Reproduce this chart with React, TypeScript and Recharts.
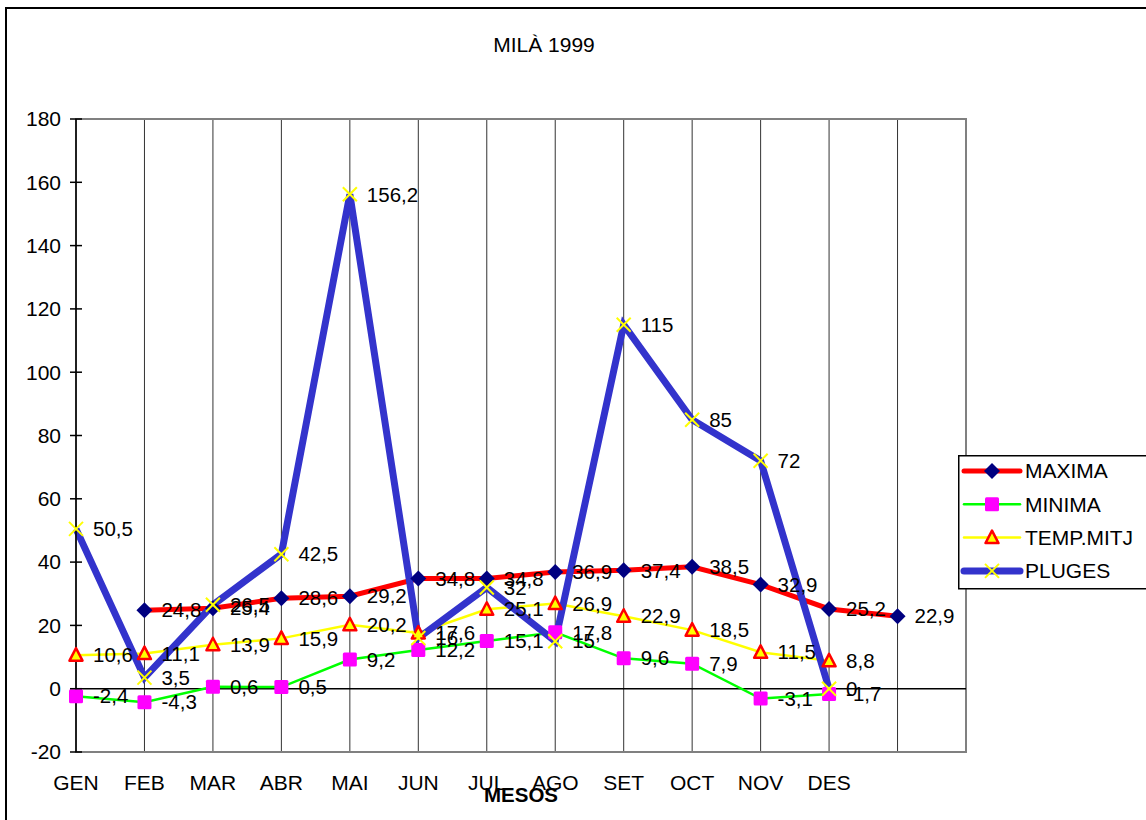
import React from 'react';
import {
  CartesianGrid,
  LabelList,
  Legend,
  Line,
  LineChart,
  ReferenceArea,
  ReferenceLine,
  XAxis,
  YAxis,
} from 'recharts';

// Months on the axis, plus two unlabeled slots at the right end
const MONTHS = ['GEN', 'FEB', 'MAR', 'ABR', 'MAI', 'JUN', 'JUL', 'AGO', 'SET', 'OCT', 'NOV', 'DES'];
const SPARE = ['_13', '_14'];
const CATEGORIES = [...MONTHS, ...SPARE];

// MAXIMA is shifted one slot to the right in the source sheet (starts at FEB)
const MAXIMA = [null, 24.8, 25.4, 28.6, 29.2, 34.8, 34.8, 36.9, 37.4, 38.5, 32.9, 25.2, 22.9, null];
const MINIMA = [-2.4, -4.3, 0.6, 0.5, 9.2, 12.2, 15.1, 17.8, 9.6, 7.9, -3.1, -1.7, null, null];
const TEMP_MITJ = [10.6, 11.1, 13.9, 15.9, 20.2, 17.6, 25.1, 26.9, 22.9, 18.5, 11.5, 8.8, null, null];
const PLUGES = [50.5, 3.5, 26.5, 42.5, 156.2, 16, 32, 15, 115, 85, 72, 0, null, null];

const Y_TICKS = [-20, 0, 20, 40, 60, 80, 100, 120, 140, 160, 180];

const FONT = 'Arial, "Liberation Sans", sans-serif';

type MarkerKind = 'diamond' | 'square' | 'triangle' | 'cross';

const SERIES: { key: string; name: string; color: string; width: number; marker: MarkerKind }[] = [
  { key: 'maxima', name: 'MAXIMA', color: '#FF0000', width: 5, marker: 'diamond' },
  { key: 'minima', name: 'MINIMA', color: '#00FF00', width: 2.5, marker: 'square' },
  { key: 'mitja', name: 'TEMP.MITJ', color: '#FFFF00', width: 2.5, marker: 'triangle' },
  { key: 'pluges', name: 'PLUGES', color: '#3333CC', width: 7, marker: 'cross' },
];

const data = CATEGORIES.map((m, i) => ({
  m,
  maxima: MAXIMA[i],
  minima: MINIMA[i],
  mitja: TEMP_MITJ[i],
  pluges: PLUGES[i],
}));

function Marker({ kind, cx, cy }: { kind: MarkerKind; cx: number; cy: number }) {
  if (kind === 'diamond') {
    const r = 8;
    return <path d={`M${cx},${cy - r}L${cx + r},${cy}L${cx},${cy + r}L${cx - r},${cy}Z`} fill="#000080" />;
  }
  if (kind === 'square') {
    const s = 7;
    return <rect x={cx - s} y={cy - s} width={2 * s} height={2 * s} rx={1.5} fill="#FF00FF" />;
  }
  if (kind === 'triangle') {
    return (
      <path
        d={`M${cx},${cy - 7}L${cx + 6.5},${cy + 5.5}L${cx - 6.5},${cy + 5.5}Z`}
        fill="#FFFF00"
        stroke="#FF0000"
        strokeWidth={2.5}
        strokeLinejoin="round"
      />
    );
  }
  const r = 7;
  return (
    <g stroke="#FFFF00" strokeWidth={2}>
      <line x1={cx - r} y1={cy - r} x2={cx + r} y2={cy + r} />
      <line x1={cx - r} y1={cy + r} x2={cx + r} y2={cy - r} />
    </g>
  );
}

const fmt = (v: number) => String(v).replace('.', ',');

function renderLabel(props: any) {
  const { value } = props;
  if (value == null) return null;
  const x = props.viewBox?.x ?? props.x;
  const y = props.viewBox?.y ?? props.y;
  if (x == null || y == null) return null;
  return (
    <text x={x + 17} y={y} dy="0.35em" fontSize={20.5} fontFamily={FONT} fill="#000">
      {fmt(value)}
    </text>
  );
}

const YTick = ({ x, y, payload }: any) => (
  <g>
    <line x1={x - 6} x2={x + 6} y1={y} y2={y} stroke="#000" strokeWidth={1.5} />
    <text x={x - 15} y={y} dy="0.35em" textAnchor="end" fontSize={21} fontFamily={FONT} fill="#000">
      {payload.value}
    </text>
  </g>
);

const AxisTitle = ({ viewBox }: any) => (
  <text
    x={viewBox.x + viewBox.width / 2}
    y={viewBox.y + 43}
    dy="0.35em"
    textAnchor="middle"
    fontSize={20.5}
    fontWeight="bold"
    fontFamily={FONT}
    fill="#000"
  >
    MESOS
  </text>
);

const LegendBox = () => (
  <svg width={200} height={136} style={{ display: 'block' }}>
    <rect x={0.75} y={0.75} width={220} height={133} fill="#fff" stroke="#000" strokeWidth={1.5} />
    {SERIES.map((s, i) => {
      const cy = 16 + i * 33.3;
      return (
        <g key={s.key}>
          <line x1={6} x2={62} y1={cy} y2={cy} stroke={s.color} strokeWidth={s.width} strokeLinecap="round" />
          <Marker kind={s.marker} cx={34} cy={cy} />
          <text x={67} y={cy} dy="0.35em" fontSize={21} fontFamily={FONT} fill="#000">
            {s.name}
          </text>
        </g>
      );
    })}
  </svg>
);

export default function App() {
  return (
    <div
      style={{
        position: 'absolute',
        left: 0,
        top: 0,
        width: 1146,
        height: 820,
        overflow: 'hidden',
        background: '#fff',
        fontFamily: FONT,
      }}
    >
      <div
        style={{
          position: 'absolute',
          left: 5,
          top: 7,
          width: 1170,
          height: 840,
          border: '2px solid #000',
          boxSizing: 'border-box',
        }}
      />
      <div
        style={{
          position: 'absolute',
          left: 444,
          width: 200,
          top: 33,
          textAlign: 'center',
          fontSize: 21,
          lineHeight: '24px',
          color: '#000',
        }}
      >
        MILÀ 1999
      </div>
      <div style={{ position: 'absolute', left: 0, top: 0 }}>
        <LineChart width={1146} height={820} data={data} margin={{ top: 119, right: 180, bottom: 8, left: 0 }}>
          <CartesianGrid horizontal={false} stroke="#333" />
          <ReferenceArea
            x1="GEN"
            x2="_14"
            y1={-20}
            y2={180}
            fill="none"
            stroke="#808080"
            strokeWidth={2}
            ifOverflow="visible"
          />
          <ReferenceLine y={0} stroke="#000" strokeWidth={1.5} />
          <XAxis
            dataKey="m"
            type="category"
            scale="point"
            padding={{ left: 0, right: 0 }}
            interval={0}
            axisLine={false}
            tickLine={false}
            tickSize={0}
            tickMargin={23}
            height={60}
            tick={{ fill: '#000', fontSize: 21, fontFamily: FONT }}
            tickFormatter={(v: string) => (MONTHS.includes(v) ? v : '')}
            label={<AxisTitle />}
          />
          <YAxis
            width={76}
            domain={[-20, 180]}
            ticks={Y_TICKS}
            interval={0}
            axisLine={{ stroke: '#000', strokeWidth: 1.5 }}
            tickLine={false}
            tickSize={0}
            tickMargin={0}
            tick={<YTick />}
          />
          {/* lines first, then all markers, then all labels (Excel drawing order) */}
          {SERIES.map((s) => (
            <Line
              key={`line-${s.key}`}
              dataKey={s.key}
              stroke={s.color}
              strokeWidth={s.width}
              dot={false}
              activeDot={false}
              legendType="none"
              isAnimationActive={false}
            />
          ))}
          {SERIES.map((s) => (
            <Line
              key={`dots-${s.key}`}
              dataKey={s.key}
              stroke="none"
              dot={(p: any) =>
                p.cy == null || p.value == null ? (
                  <g key={`d-${s.key}-${p.index}`} />
                ) : (
                  <g key={`d-${s.key}-${p.index}`}>
                    <Marker kind={s.marker} cx={p.cx} cy={p.cy} />
                  </g>
                )
              }
              activeDot={false}
              legendType="none"
              isAnimationActive={false}
            />
          ))}
          {SERIES.map((s) => (
            <Line
              key={`labels-${s.key}`}
              dataKey={s.key}
              stroke="none"
              dot={false}
              activeDot={false}
              legendType="none"
              isAnimationActive={false}
            >
              <LabelList dataKey={s.key} content={renderLabel} />
            </Line>
          ))}
          <Legend
            layout="horizontal"
            verticalAlign="middle"
            align="center"
            content={() => <LegendBox />}
            wrapperStyle={{ left: 958, top: 455, width: 200, height: 136 }}
          />
        </LineChart>
      </div>
    </div>
  );
}
